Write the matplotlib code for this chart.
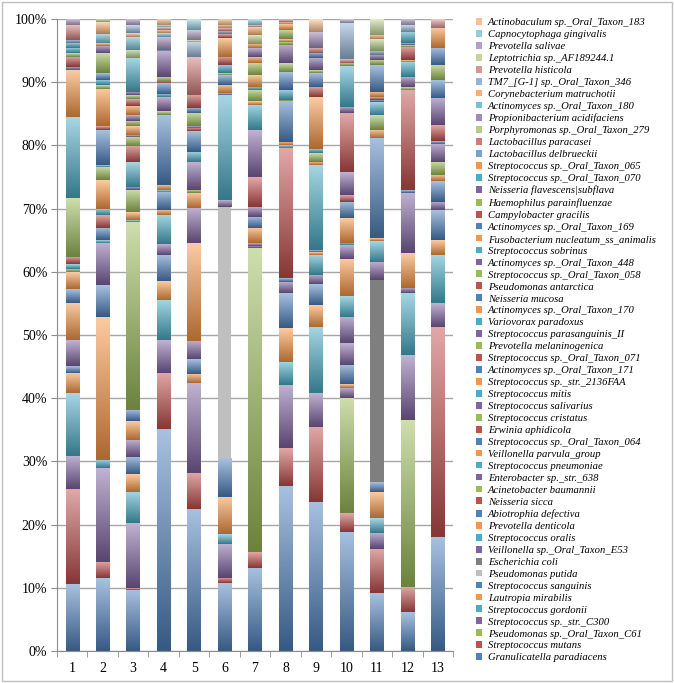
import numpy as np
import matplotlib
matplotlib.use('Agg')
import matplotlib.pyplot as plt
from matplotlib.colors import to_rgb
from matplotlib.patches import Rectangle

# species, bottom of the stack first
species = [
    "Granulicatella paradiacens", "Streptococcus mutans", "Pseudomonas sp._Oral_Taxon_C61",
    "Streptococcus sp._str._C300", "Streptococcus gordonii", "Lautropia mirabilis",
    "Streptococcus sanguinis", "Pseudomonas putida", "Escherichia coli",
    "Veillonella sp._Oral_Taxon_E53", "Streptococcus oralis", "Prevotella denticola",
    "Abiotrophia defectiva", "Neisseria sicca", "Acinetobacter baumannii",
    "Enterobacter sp._str._638", "Streptococcus pneumoniae", "Veillonella parvula_group",
    "Streptococcus sp._Oral_Taxon_064", "Erwinia aphidicola", "Streptococcus cristatus",
    "Streptococcus salivarius", "Streptococcus mitis", "Streptococcus sp._str._2136FAA",
    "Actinomyces sp._Oral_Taxon_171", "Streptococcus sp._Oral_Taxon_071", "Prevotella melaninogenica",
    "Streptococcus parasanguinis_II", "Variovorax paradoxus", "Actinomyces sp._Oral_Taxon_170",
    "Neisseria mucosa", "Pseudomonas antarctica", "Streptococcus sp._Oral_Taxon_058",
    "Actinomyces sp._Oral_Taxon_448", "Streptococcus sobrinus", "Fusobacterium nucleatum_ss_animalis",
    "Actinomyces sp._Oral_Taxon_169", "Campylobacter gracilis", "Haemophilus parainfluenzae",
    "Neisseria flavescens|subflava", "Streptococcus sp._Oral_Taxon_070", "Streptococcus sp._Oral_Taxon_065",
    "Lactobacillus delbrueckii", "Lactobacillus paracasei", "Porphyromonas sp._Oral_Taxon_279",
    "Propionibacterium acidifaciens", "Actinomyces sp._Oral_Taxon_180", "Corynebacterium matruchotii",
    "TM7_[G-1] sp._Oral_Taxon_346", "Prevotella histicola", "Leptotrichia sp._AF189244.1",
    "Prevotella salivae", "Capnocytophaga gingivalis", "Actinobaculum sp._Oral_Taxon_183",
]

samples = ['1', '2', '3', '4', '5', '6', '7', '8', '9', '10', '11', '12', '13']

# relative abundance (%) per sample, keyed by species number (1 = bottom)
s01 = {1: 10.6, 2: 15.0, 4: 5.3, 5: 9.9, 6: 3.2, 7: 1.1, 10: 4.1, 12: 5.9, 13: 2.2, 18: 2.6,
       21: 0.6, 23: 0.7, 26: 1.2, 27: 9.3, 29: 12.8, 30: 7.4, 31: 0.5, 32: 1.6, 33: 0.6,
       35: 0.8, 41: 0.8, 43: 0.5, 44: 2.3, 52: 1.0}
s02 = {1: 11.5, 2: 2.6, 4: 14.8, 5: 1.3, 6: 22.7, 7: 5.0, 10: 6.7, 11: 0.4, 13: 2.0, 14: 2.0,
       17: 1.0, 18: 4.5, 21: 2.1, 23: 0.3, 25: 5.5, 26: 0.6, 30: 6.0, 33: 0.5, 35: 0.8,
       37: 1.1, 39: 3.2, 40: 1.2, 42: 0.4, 47: 1.5, 48: 1.8, 51: 0.5}
s03 = {1: 9.7, 2: 0.3, 4: 10.2, 5: 5.0, 6: 2.8, 7: 2.7, 10: 2.7, 12: 3.0, 13: 1.8, 15: 29.7,
       17: 0.3, 18: 1.2, 21: 3.5, 22: 0.5, 23: 3.9, 26: 2.6, 27: 1.5, 28: 0.3, 30: 1.3,
       33: 0.9, 34: 0.9, 36: 1.5, 38: 1.1, 39: 0.5, 40: 0.6, 41: 5.3, 45: 1.3, 47: 2.1,
       48: 0.6, 49: 1.2, 52: 1.0}
s04 = {1: 35.1, 2: 8.9, 4: 5.2, 5: 6.4, 6: 2.9, 7: 4.2, 10: 1.7, 11: 4.6, 12: 0.8, 13: 2.9,
       17: 0.3, 18: 0.8, 31: 11.0, 33: 0.6, 34: 2.2, 35: 0.6, 37: 1.6, 38: 0.3, 39: 0.8,
       40: 4.0, 43: 0.2, 46: 2.1, 47: 0.6, 48: 0.5, 50: 0.4, 53: 0.3, 54: 1.0}
s05 = {1: 22.5, 2: 5.7, 4: 14.2, 6: 1.5, 7: 2.3, 10: 2.9, 12: 15.4, 16: 5.6, 18: 2.4, 21: 0.5,
       22: 4.4, 23: 1.6, 25: 3.2, 26: 0.5, 28: 0.3, 33: 2.1, 37: 0.8, 38: 2.1, 44: 6.0,
       49: 2.4, 51: 0.3, 52: 1.6, 53: 1.7}
s06 = {1: 10.7, 2: 0.9, 4: 5.4, 5: 1.5, 6: 5.9, 7: 6.1, 8: 39.8, 10: 1.1, 11: 16.6, 13: 0.3,
       18: 1.3, 19: 1.5, 21: 0.3, 23: 1.3, 26: 1.3, 30: 3.0, 32: 0.6, 43: 0.5, 44: 0.4,
       48: 0.5, 54: 1.0}
s07 = {1: 13.2, 2: 2.4, 3: 48.1, 4: 0.4, 10: 0.4, 12: 2.4, 13: 1.8, 16: 1.6, 20: 4.7, 22: 7.4,
       23: 4.0, 24: 0.6, 27: 1.8, 29: 0.5, 30: 1.8, 33: 1.9, 36: 1.0, 40: 1.4, 42: 0.7,
       45: 1.4, 48: 1.3, 50: 0.3, 53: 0.9}
s08 = {1: 26.1, 2: 6.0, 4: 10.0, 5: 3.7, 6: 5.3, 7: 5.5, 10: 1.8, 13: 0.6, 14: 20.6, 17: 0.4,
       18: 0.5, 19: 6.5, 21: 0.2, 23: 1.6, 25: 2.8, 27: 1.4, 28: 2.9, 33: 0.5, 36: 0.4,
       39: 1.5, 42: 0.9, 48: 0.4, 50: 0.4}
s09 = {1: 23.6, 2: 11.9, 4: 5.3, 5: 10.5, 6: 3.4, 7: 3.3, 10: 1.5, 11: 3.2, 12: 0.4, 13: 0.3,
       17: 13.5, 18: 0.5, 21: 1.4, 23: 0.7, 24: 8.1, 26: 1.7, 31: 2.2, 33: 0.4, 34: 1.9,
       37: 0.8, 44: 0.8, 46: 2.6, 54: 2.0}
s10 = {1: 18.9, 2: 2.9, 3: 18.2, 4: 1.6, 6: 0.6, 7: 3.1, 10: 3.4, 16: 4.2, 17: 3.2, 18: 5.9,
       22: 2.2, 23: 0.4, 24: 3.9, 25: 2.6, 26: 1.1, 28: 3.6, 32: 9.3, 34: 1.0, 35: 6.4,
       39: 0.5, 44: 0.6, 49: 5.8, 52: 0.6}
s11 = {1: 9.1, 2: 7.0, 4: 2.6, 5: 2.3, 6: 4.1, 7: 1.5, 9: 32.1, 10: 2.9, 11: 3.3, 12: 0.4,
       19: 15.9, 24: 1.3, 27: 2.3, 29: 2.0, 31: 0.4, 32: 0.4, 36: 0.9, 37: 4.2, 39: 0.8,
       40: 0.8, 43: 0.7, 45: 1.8, 48: 0.7, 51: 2.5}
s12 = {1: 6.1, 2: 4.1, 3: 26.4, 4: 10.2, 5: 9.8, 10: 0.8, 12: 5.5, 16: 9.6, 19: 0.4, 26: 15.9,
       27: 0.4, 28: 1.6, 29: 2.4, 30: 0.3, 32: 2.1, 33: 0.3, 34: 0.3, 35: 1.8, 49: 1.0, 52: 1.0}
s13 = {1: 18.0, 2: 33.3, 4: 3.7, 5: 7.7, 6: 2.3, 7: 4.7, 10: 1.4, 13: 3.2, 18: 1.0, 21: 2.1,
       22: 2.9, 25: 0.4, 26: 2.5, 28: 4.3, 31: 2.8, 33: 2.4, 37: 2.7, 42: 3.2, 50: 1.4}

sample_data = [s01, s02, s03, s04, s05, s06, s07, s08, s09, s10, s11, s12, s13]

# Excel 2007 style palette
base = ['#4F81BD', '#C0504D', '#9BBB59', '#8064A2', '#4BACC6', '#F79646']


def mix(c, other, f):
    c = np.array(to_rgb(c))
    return tuple(c + (np.array(other) - c) * f)


def species_color(i):
    if i == 8:
        return '#BFBFBF'
    if i == 9:
        return '#7F7F7F'
    c = base[(i - 1) % 6]
    cycle = (i - 1) // 6
    if cycle == 7:
        c = mix(c, (1, 1, 1), 0.25)
    elif cycle >= 8:
        c = mix(c, (1, 1, 1), 0.4)
    return c


n = len(species)
table = np.zeros((n, len(samples)))
for j, d in enumerate(sample_data):
    for k, v in d.items():
        table[k - 1, j] = v
table = table / table.sum(axis=0) * 100  # 100% stacked

plt.rcParams['font.family'] = ['Liberation Serif', 'DejaVu Serif']

fig = plt.figure(figsize=(6.74, 6.83), dpi=100)
ax = fig.add_axes([57 / 674, 1 - 651 / 683, 396 / 674, 632 / 683])

x = np.arange(1, len(samples) + 1)
bottom = np.zeros(len(samples))
handles = []
t = np.linspace(0, 1, 32)[:, None, None]
for i in range(n):
    col = species_color(i + 1)
    bars = ax.bar(x, table[i], width=0.44, bottom=bottom, color=col, linewidth=0, zorder=2,
                  label=species[i])
    handles.append(bars)
    if i + 1 not in (8, 9):
        # Excel-like vertical gradient, light on top, dark at the bottom
        top_c = mix(col, (1, 1, 1), 0.5)
        bot_c = mix(col, (0, 0, 0), 0.3)
        grad = np.array(bot_c)[None, None, :] * (1 - t) + np.array(top_c)[None, None, :] * t
        for r in bars.patches:
            h = r.get_height()
            if h <= 0:
                continue
            x0, y0 = r.get_x(), r.get_y()
            ax.imshow(grad, extent=[x0, x0 + r.get_width(), y0, y0 + h], origin='lower',
                      aspect='auto', interpolation='bilinear', zorder=2.5)
    bottom += table[i]

ax.set_xlim(0.5, 13.5)
ax.set_ylim(0, 100)
ax.set_yticks(np.arange(0, 101, 10))
ax.set_yticklabels([f'{v}%' for v in range(0, 101, 10)], fontsize=10)
ax.set_xticks(x)
ax.set_xticklabels(samples, fontsize=10)
ax.set_xticks(np.arange(0.5, 13.6, 1), minor=True)
ax.tick_params(axis='x', which='major', length=0, pad=8)
ax.tick_params(axis='x', which='minor', length=4, color='#8C8C8C')
ax.tick_params(axis='y', length=4, color='#8C8C8C', pad=3)
ax.grid(axis='y', color='#A6A6A6', linewidth=1, zorder=0)
ax.set_axisbelow(True)
for s in ['top', 'right']:
    ax.spines[s].set_visible(False)
for s in ['left', 'bottom']:
    ax.spines[s].set_color('#8C8C8C')

leg = fig.legend(handles[::-1], species[::-1], loc='upper left',
                 bbox_to_anchor=(476 / 674, 1 - 18 / 683), frameon=False,
                 prop={'family': 'Liberation Serif', 'style': 'italic', 'size': 7.7},
                 handlelength=0.6, handleheight=0.6, handletextpad=0.5,
                 labelspacing=0.26, borderaxespad=0, borderpad=0)

fig.patches.append(Rectangle((0.003, 0.003), 0.994, 0.994, transform=fig.transFigure,
                             fill=False, edgecolor='#BFBFBF', linewidth=1))

fig.savefig('out.png', dpi=100)
